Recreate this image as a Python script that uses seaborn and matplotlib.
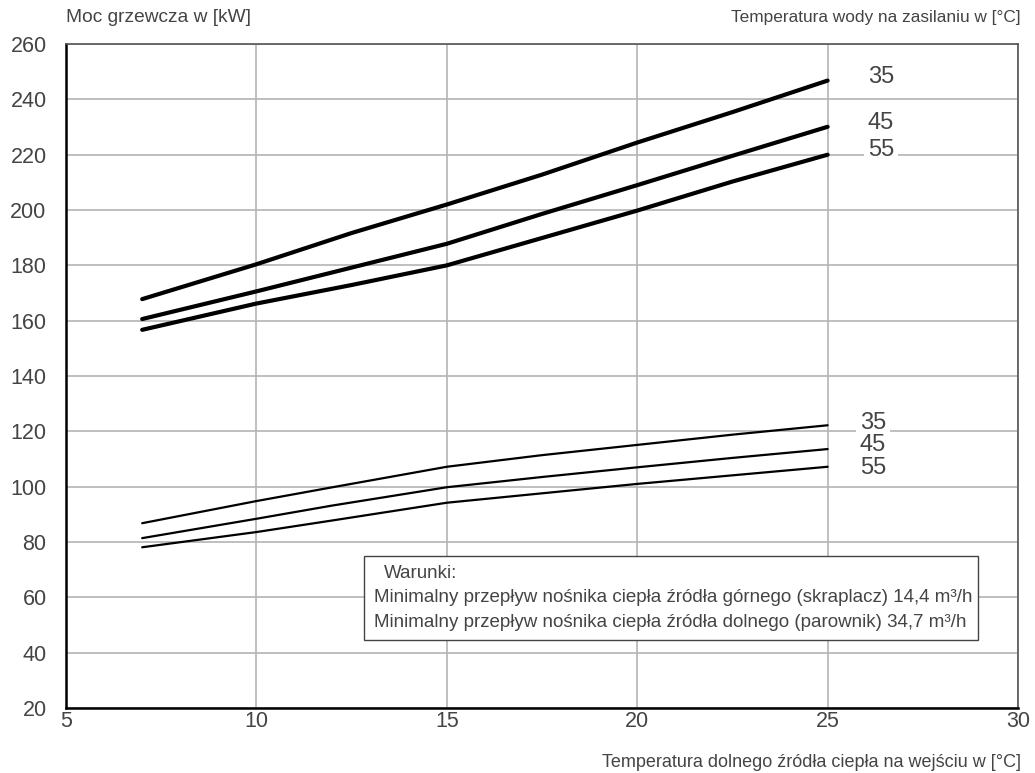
import numpy as np
import pandas as pd
import matplotlib
matplotlib.use("Agg")
import matplotlib.pyplot as plt
import seaborn as sns
from matplotlib.ticker import MultipleLocator
from matplotlib.patches import Rectangle

# ---- data ----
x_upper = [7, 10, 12.5, 15, 17.5, 20, 22.5, 25]
upper_35 = [167.8, 180.4, 191.7, 202.0, 212.8, 224.4, 235.4, 246.8]
upper_45 = [160.6, 170.6, 179.2, 187.8, 198.6, 209.0, 219.6, 230.1]
upper_55 = [156.7, 166.2, 172.9, 180.0, 189.9, 199.8, 210.3, 220.0]

x_lower = [7, 10, 12, 15, 17.5, 20, 22.5, 25]
lower_35 = [86.8, 94.8, 99.8, 107.2, 111.4, 115.1, 118.8, 122.2]
lower_45 = [81.4, 88.4, 93.2, 99.8, 103.5, 107.0, 110.4, 113.6]
lower_55 = [78.1, 83.6, 87.8, 94.2, 97.6, 101.0, 104.1, 107.2]

supply_temps = ["35", "45", "55"]
x_ticks = [5, 10, 15, 20, 25, 30]
y_ticks = [20, 40, 60, 80, 100, 120, 140, 160, 180, 200, 220, 240, 260]

y_label = "Moc grzewcza w [kW]"
legend_title = "Temperatura wody na zasilaniu w [°C]"
x_label = "Temperatura dolnego źródła ciepła na wejściu w [°C]"
note_lines = [
    "Warunki:",
    "Minimalny przepływ nośnika ciepła źródła górnego (skraplacz) 14,4 m³/h",
    "Minimalny przepływ nośnika ciepła źródła dolnego (parownik) 34,7 m³/h",
]

# ---- build tables ----
up = pd.DataFrame({"x": x_upper * 3,
                   "y": upper_35 + upper_45 + upper_55,
                   "t": sum([[t] * len(x_upper) for t in supply_temps], [])})
lo = pd.DataFrame({"x": x_lower * 3,
                   "y": lower_35 + lower_45 + lower_55,
                   "t": sum([[t] * len(x_lower) for t in supply_temps], [])})

sns.set_style("white")
plt.rcParams["font.family"] = ["Liberation Sans", "DejaVu Sans"]
txt = "#444444"

fig = plt.figure(figsize=(10.35, 7.73), dpi=100)
ax = fig.add_axes([0.0638, 0.0841, 0.9198, 0.8589])

pal = {t: "black" for t in supply_temps}
sns.lineplot(data=up, x="x", y="y", hue="t", palette=pal, lw=3.0,
             legend=False, ax=ax, solid_capstyle="round", solid_joinstyle="round")
sns.lineplot(data=lo, x="x", y="y", hue="t", palette=pal, lw=1.6,
             legend=False, ax=ax, solid_joinstyle="round")

ax.set_xlim(5, 30)
ax.set_ylim(20, 260)
ax.set_xticks(x_ticks)
ax.set_yticks(y_ticks)
ax.xaxis.set_minor_locator(MultipleLocator(1))
ax.yaxis.set_minor_locator(MultipleLocator(2))
ax.grid(True, which="major", color="#b4b4b4", lw=1.2)
ax.set_axisbelow(True)
ax.tick_params(axis="both", which="major", direction="in", length=6,
               width=1, color="#222222", labelsize=15.5, labelcolor=txt)
ax.tick_params(axis="both", which="minor", direction="in", length=3.5,
               width=0.8, color="#222222")
ax.tick_params(axis="y", which="major", pad=14)
ax.tick_params(axis="x", which="major", pad=2)
ax.set_xlabel("")
ax.set_ylabel("")
for s in ["left", "bottom"]:
    ax.spines[s].set_color("black")
    ax.spines[s].set_linewidth(1.8)
for s in ["top", "right"]:
    ax.spines[s].set_color("#555555")
    ax.spines[s].set_linewidth(1.2)

# axis titles
fig.text(0.0638, 0.977, y_label, ha="left", va="center", fontsize=13.8, color=txt)
fig.text(0.986, 0.977, legend_title, ha="right", va="center", fontsize=12.4, color=txt)
fig.text(0.986, 0.014, x_label, ha="right", va="center", fontsize=13, color=txt)

# series labels
bbox = dict(facecolor="white", edgecolor="none", pad=2.5)
for t, yv in zip(supply_temps, [248.1, 231.4, 221.7]):
    ax.text(26.06, yv, t, fontsize=17, color=txt, ha="left", va="center",
            bbox=bbox if t == "55" else None)
for t, yv in zip(supply_temps, [122.9, 115.0, 106.7]):
    ax.text(25.85, yv, t, fontsize=17, color=txt, ha="left", va="center",
            bbox=bbox if t == "35" else None)

# note box
bx0, bx1 = 12.83, 28.95
by0, by1 = 44.4, 74.8
ax.add_patch(Rectangle((bx0, by0), bx1 - bx0, by1 - by0, facecolor="white",
                       edgecolor="#444444", lw=1.0, zorder=5))
ax.text(13.36, 68.7, note_lines[0], fontsize=13.5, color=txt, va="center", zorder=6)
ax.text(13.08, 60.0, note_lines[1], fontsize=13.5, color=txt, va="center", zorder=6)
ax.text(13.08, 51.0, note_lines[2], fontsize=13.5, color=txt, va="center", zorder=6)

fig.savefig("out.png", dpi=100)
